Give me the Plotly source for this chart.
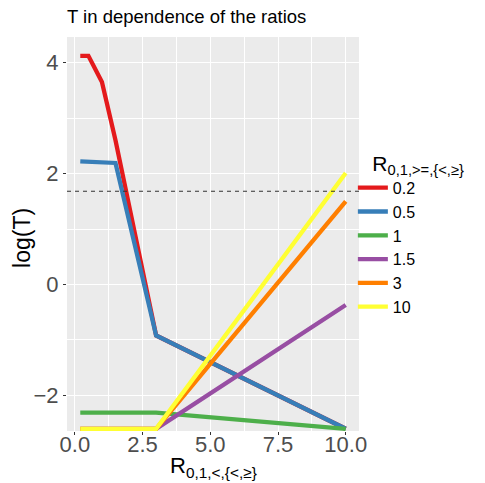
import plotly.graph_objects as go

# ---- data ----
x_ratio = [0.2, 0.5, 1, 1.5, 3, 10]
series_names = ["0.2", "0.5", "1", "1.5", "3", "10"]
logT_02 = [4.12, 4.12, 3.65, 2.60, -0.92, -2.60]
logT_05 = [2.22, 2.21, 2.20, 2.19, -0.92, -2.60]
logT_1 = [-2.31, -2.31, -2.31, -2.31, -2.31, -2.60]
logT_15 = [-2.60, -2.60, -2.60, -2.60, -2.60, -0.37]
logT_3 = [-2.60, -2.60, -2.60, -2.60, -2.60, 1.50]
logT_10 = [-2.60, -2.60, -2.60, -2.60, -2.60, 2.01]
threshold = 1.68
x_ticks = [0, 2.5, 5, 7.5, 10]
y_ticks = [-2, 0, 2, 4]

series_values = [logT_02, logT_05, logT_1, logT_15, logT_3, logT_10]
colors = ["#E41A1C", "#377EB8", "#4DAF4A", "#984EA3", "#FF7F00", "#FFFF33"]

FONT = "Liberation Sans, Arial, sans-serif"
W, H = 485, 483
ML, MR, MT, MB = 67, 126, 37, 52
PW = W - ML - MR
PH = H - MT - MB

fig = go.Figure()
for name, vals, col in zip(series_names, series_values, colors):
    fig.add_trace(go.Scatter(
        x=x_ratio, y=vals, mode="lines", name=name,
        line=dict(color=col, width=4.3),
    ))

fig.add_hline(y=threshold, line=dict(color="#333333", width=1.1, dash="4px,4px"))

# axis titles (annotations for precise placement)
fig.add_annotation(
    text="R<sub>0,1,&lt;,{&lt;,≥}</sub>",
    xref="paper", yref="paper", x=0.5, y=-(451 - (H - MB)) / PH,
    xanchor="center", yanchor="top", showarrow=False,
    font=dict(size=22, color="black"),
)
fig.add_annotation(
    text="log(T)", textangle=-90,
    xref="paper", yref="paper", x=-(ML - 22) / PW, y=0.49,
    xanchor="center", yanchor="middle", showarrow=False,
    font=dict(size=23, color="black"),
)

fig.update_layout(
    width=W, height=H,
    margin=dict(l=ML, r=MR, t=MT, b=MB),
    paper_bgcolor="white",
    plot_bgcolor="#EBEBEB",
    font=dict(family=FONT, color="black"),
    title=dict(
        text="T in dependence of the ratios",
        x=67 / W, xref="container", xanchor="left",
        y=1 - 17 / H, yref="container", yanchor="middle",
        font=dict(size=18.5, color="black"),
        pad=dict(l=0, r=0, t=0, b=0),
    ),
    showlegend=True,
    legend=dict(
        title=dict(text="&nbsp;&nbsp;&nbsp;R<sub>0,1,>=,{&lt;,≥}</sub>",
                   font=dict(size=21, color="black")),
        font=dict(size=16, color="black"),
        x=0.979, xanchor="left", y=0.5, yanchor="middle",
        bgcolor="rgba(0,0,0,0)",
    ),
)

fig.update_xaxes(
    range=[-0.29, 10.49],
    tickvals=x_ticks, tickformat=".1f",
    ticks="outside", ticklen=3, tickwidth=1, tickcolor="#333333",
    tickfont=dict(size=22, color="#4D4D4D"),
    ticklabelstandoff=-9,
    showgrid=True, gridcolor="white", gridwidth=1.3,
    minor=dict(dtick=1.25, tick0=0, showgrid=True, gridcolor="white", gridwidth=0.6, ticks=""),
    zeroline=False, showline=False,
)
fig.update_yaxes(
    range=[-2.64, 4.46],
    tickvals=y_ticks,
    ticks="outside", ticklen=3, tickwidth=1, tickcolor="#333333",
    tickfont=dict(size=22, color="#4D4D4D"),
    showgrid=True, gridcolor="white", gridwidth=1.3,
    minor=dict(dtick=1, tick0=0, showgrid=True, gridcolor="white", gridwidth=0.6, ticks=""),
    zeroline=False, showline=False,
)

# remove the default 8px page margin so the figure fills the window exactly
fig.write_html(
    "out.html",
    config={"displayModeBar": False},
    post_script="document.body.style.margin='0px';document.body.style.overflow='hidden';",
)
